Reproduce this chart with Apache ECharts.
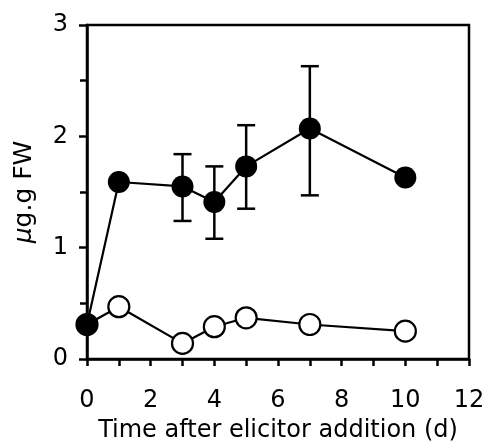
<!DOCTYPE html>
<html><head><meta charset="utf-8">
<script src="https://cdn.jsdelivr.net/npm/echarts@6/dist/echarts.min.js"></script>
<style>html,body{margin:0;padding:0;background:#fff}#c{width:488px;height:448px}</style>
</head><body><div id="c"></div>
<script>
const days = [0, 1, 3, 4, 5, 7, 10];
const elicited = [0.31, 1.59, 1.55, 1.41, 1.73, 2.07, 1.63];
const control = [0.31, 0.47, 0.14, 0.29, 0.37, 0.31, 0.25];
const errDays = [3, 4, 5, 7];
const errLow = [1.24, 1.08, 1.35, 1.47];
const errHigh = [1.84, 1.73, 2.10, 2.63];
const xTitle = 'Time after elicitor addition (d)';

const font = '"DejaVu Sans", sans-serif';
const chart = echarts.init(document.getElementById('c'));
chart.setOption({
  animation: false,
  backgroundColor: '#fff',
  grid: { left: 87, right: 19, top: 25, bottom: 89, show: true, borderColor: '#000', borderWidth: 2.5, backgroundColor: 'transparent' },
  xAxis: {
    type: 'value', min: 0, max: 12, interval: 2,
    name: xTitle, nameLocation: 'middle', nameGap: 60,
    nameTextStyle: { fontFamily: font, fontSize: 24, color: '#000' },
    axisLine: { show: true, onZero: false, lineStyle: { color: '#000', width: 2.5 } },
    axisTick: { show: true, inside: false, length: 7, lineStyle: { color: '#000', width: 2.5 } },
    minorTick: { show: true, splitNumber: 2, length: 7, lineStyle: { color: '#000', width: 2.5 } },
    axisLabel: { fontFamily: font, fontSize: 24, color: '#000', margin: 30 },
    splitLine: { show: false }
  },
  yAxis: {
    type: 'value', min: 0, max: 3, interval: 1,
    name: '{i|μ}g.g FW', nameLocation: 'middle', nameGap: 50, nameRotate: 90,
    nameTextStyle: { fontFamily: font, fontSize: 25, color: '#000',
      rich: { i: { fontFamily: font, fontSize: 25, fontStyle: 'italic', color: '#000' } } },
    axisLine: { show: true, lineStyle: { color: '#000', width: 2.5 } },
    axisTick: { show: true, inside: false, length: 8, lineStyle: { color: '#000', width: 2.5 } },
    minorTick: { show: true, splitNumber: 2, length: 7, lineStyle: { color: '#000', width: 2.5 } },
    axisLabel: { fontFamily: font, fontSize: 24, color: '#000', margin: 19 },
    splitLine: { show: false }
  },
  series: [
    {
      type: 'custom', z: 1,
      data: errDays.map((d, i) => [d, errLow[i], errHigh[i]]),
      renderItem: function (params, api) {
        const lo = api.coord([api.value(0), api.value(1)]);
        const hi = api.coord([api.value(0), api.value(2)]);
        const w = 9;
        const st = { stroke: '#000', lineWidth: 2.5 };
        return { type: 'group', children: [
          { type: 'line', shape: { x1: lo[0], y1: lo[1], x2: hi[0], y2: hi[1] }, style: st },
          { type: 'line', shape: { x1: lo[0] - w, y1: lo[1], x2: lo[0] + w, y2: lo[1] }, style: st },
          { type: 'line', shape: { x1: hi[0] - w, y1: hi[1], x2: hi[0] + w, y2: hi[1] }, style: st }
        ]};
      }
    },
    {
      type: 'line', z: 2,
      data: days.map((d, i) => [d, control[i]]),
      symbol: 'circle', symbolSize: 21,
      lineStyle: { color: '#000', width: 2.2 },
      itemStyle: { color: '#fff', borderColor: '#000', borderWidth: 2.2 }
    },
    {
      type: 'line', z: 3,
      data: days.map((d, i) => [d, elicited[i]]),
      symbol: 'circle', symbolSize: 22,
      lineStyle: { color: '#000', width: 2.2 },
      itemStyle: { color: '#000', borderColor: '#000', borderWidth: 0 }
    }
  ]
});
</script></body></html>
